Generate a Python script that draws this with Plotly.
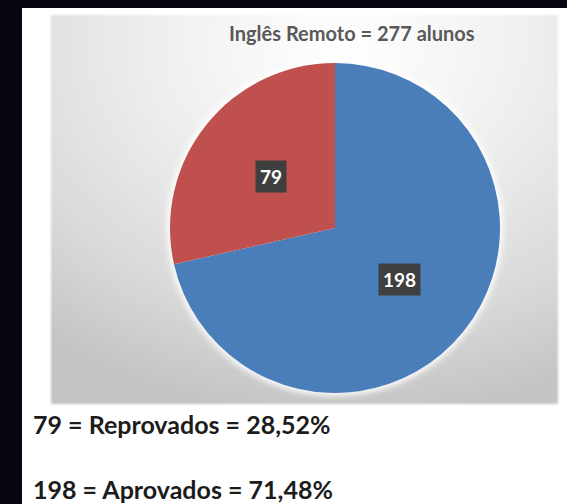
import base64
import math
import plotly.graph_objects as go

# Data
categories = ["Aprovados", "Reprovados"]
students = [198, 79]
slice_colors = ["#4A7EBB", "#C0504D"]
chart_title = "Inglês Remoto = 277 alunos"
summary_lines = ["79 = Reprovados = 28,52%", "198 = Aprovados = 71,48%"]

# Canvas geometry (pixels)
W, H = 567, 504
PAGE_LEFT, PAGE_TOP = 22, 8
PANEL = (51, 15, 558, 404)          # x0, y0, x1, y1
PIE_CX, PIE_CY, PIE_R = 335, 228, 165
FONT = "Lato"


def px_to_paper(x, y):
    return x / W, 1 - y / H


# Background artwork: white page, gradient chart panel, soft glow behind the pie
svg = f"""<svg xmlns='http://www.w3.org/2000/svg' width='{W}' height='{H}' viewBox='0 0 {W} {H}'>
<defs>
<radialGradient id='pg' cx='0.58' cy='0.08' r='0.95' fx='0.58' fy='0.08'>
<stop offset='0' stop-color='#ffffff'/>
<stop offset='0.35' stop-color='#f1f1f1'/>
<stop offset='0.75' stop-color='#d9d9d9'/>
<stop offset='1' stop-color='#c4c4c4'/>
</radialGradient>
<filter id='glow' x='-20%' y='-20%' width='140%' height='140%'><feGaussianBlur stdDeviation='3'/></filter>
<filter id='soft' x='-5%' y='-5%' width='110%' height='110%'><feGaussianBlur stdDeviation='0.8'/></filter>
</defs>
<rect x='{PAGE_LEFT}' y='{PAGE_TOP}' width='{W - PAGE_LEFT}' height='{H - PAGE_TOP}' fill='#ffffff'/>
<rect x='{PANEL[0]}' y='{PANEL[1]}' width='{PANEL[2] - PANEL[0]}' height='{PANEL[3] - PANEL[1]}' fill='url(#pg)' filter='url(#soft)'/>
<circle cx='{PIE_CX}' cy='{PIE_CY}' r='{PIE_R + 3}' fill='#ffffff' fill-opacity='0.95' filter='url(#glow)'/>
</svg>"""
svg_uri = "data:image/svg+xml;base64," + base64.b64encode(svg.encode("utf-8")).decode()

fig = go.Figure()

dx0, dy1 = px_to_paper(PIE_CX - PIE_R, PIE_CY - PIE_R)
dx1, dy0 = px_to_paper(PIE_CX + PIE_R, PIE_CY + PIE_R)

fig.add_trace(go.Pie(
    labels=categories,
    values=students,
    marker=dict(colors=slice_colors, line=dict(width=0)),
    sort=False,
    direction="clockwise",
    rotation=0,
    textinfo="none",
    hoverinfo="label+value+percent",
    showlegend=False,
    domain=dict(x=[dx0, dx1], y=[dy0, dy1]),
))

annotations = []

# Value labels in dark boxes at half radius along each slice's mid-angle
total = sum(students)
cum = 0
for v in students:
    mid = (cum + v / 2) / total * 2 * math.pi
    cum += v
    lx = PIE_CX + 0.5 * PIE_R * math.sin(mid)
    ly = PIE_CY - 0.5 * PIE_R * math.cos(mid)
    ax, ay = px_to_paper(lx, ly)
    annotations.append(dict(
        x=ax, y=ay, xref="paper", yref="paper", showarrow=False,
        text=str(v), bgcolor="#3f3f3f", borderpad=4,
        font=dict(family=FONT, size=19, color="#ffffff", weight="bold"),
        xanchor="center", yanchor="middle",
    ))

# Chart title
tx, ty = px_to_paper(352, 33)
annotations.append(dict(
    x=tx, y=ty, xref="paper", yref="paper", showarrow=False,
    text=chart_title, xanchor="center", yanchor="middle",
    font=dict(family=FONT, size=20, color="#595959", weight="bold"),
))

# Summary lines below the chart
for line, cy in zip(summary_lines, [424, 489]):
    sx, sy = px_to_paper(31, cy)
    annotations.append(dict(
        x=sx, y=sy, xref="paper", yref="paper", showarrow=False,
        text=line, xanchor="left", yanchor="middle",
        font=dict(family=FONT, size=25, color="#1c1c1c", weight="bold"),
    ))

fig.update_layout(
    width=W, height=H,
    margin=dict(l=0, r=0, t=0, b=0),
    paper_bgcolor="#05060e",
    plot_bgcolor="rgba(0,0,0,0)",
    images=[dict(
        source=svg_uri, xref="paper", yref="paper", x=0, y=1,
        sizex=1, sizey=1, xanchor="left", yanchor="top",
        sizing="stretch", layer="below",
    )],
    annotations=annotations,
)

fig.write_html("out.html")
